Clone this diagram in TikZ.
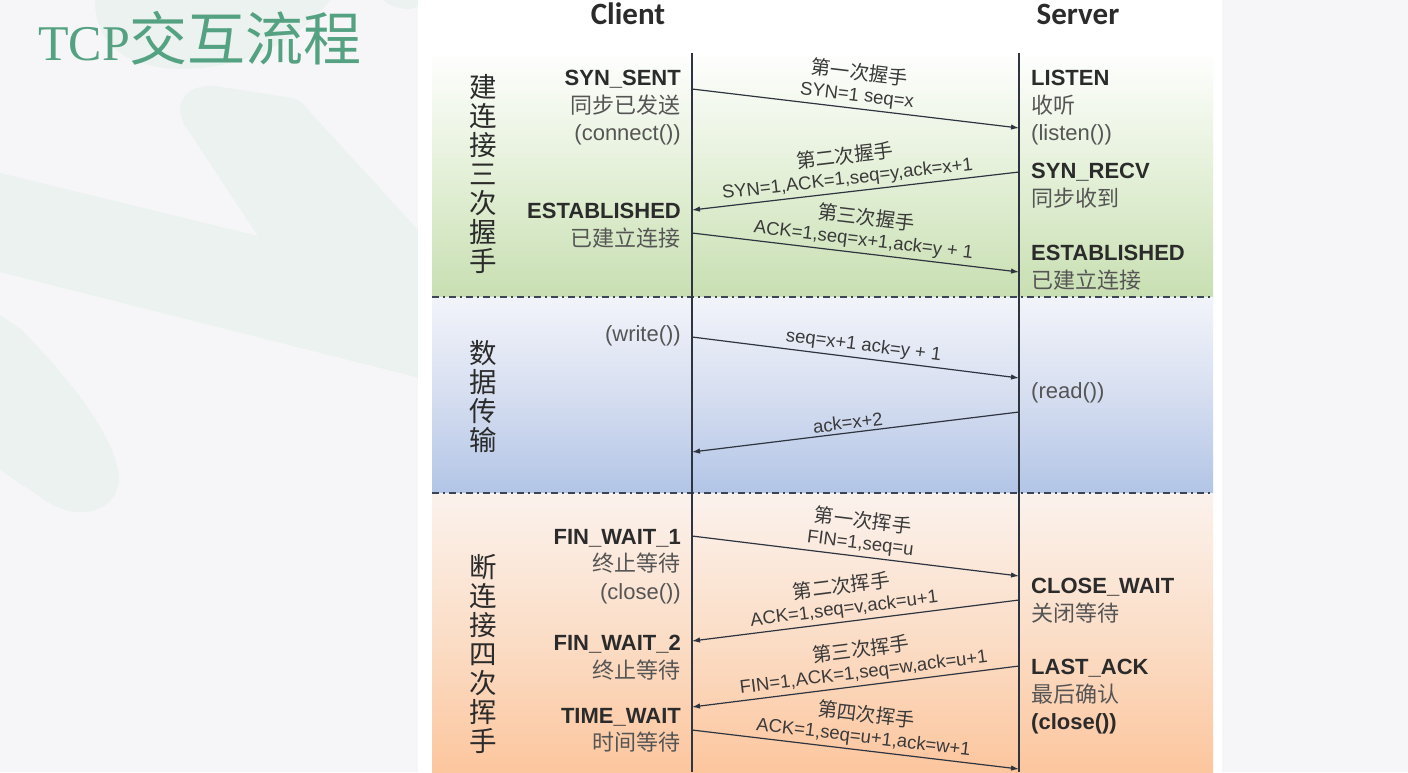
\documentclass[tikz,border=0pt]{standalone}
\usepackage{fontspec}
\setmainfont{Liberation Sans}
\newfontfamily\cjk{Noto Sans CJK SC}
\newfontfamily\calib{Carlito}
\newfontfamily\tser{Liberation Serif}
\newcommand\lblcjk{\cjk\fontsize{19.5}{21.5}\selectfont}
\usetikzlibrary{arrows.meta}
\definecolor{bgcol}{HTML}{F6F6F8}
\definecolor{blobcol}{HTML}{EBF2EF}
\definecolor{titlecol}{HTML}{55A283}
\definecolor{ink}{HTML}{2B2B2B}
\definecolor{grayink}{HTML}{555555}
\definecolor{lblink}{HTML}{3A3A3A}
\definecolor{lineink}{HTML}{2E3440}
\definecolor{sepink}{HTML}{3A4658}
\begin{document}
\begin{tikzpicture}[x=1pt,y=-1pt,
  life/.style={draw=lineink,line width=1.3pt},
  msg/.style={draw=lineink,line width=1.2pt,-{Latex[length=8pt,width=5.5pt]}},
  sepline/.style={draw=sepink,line width=2pt,dash pattern=on 7pt off 4pt on 2pt off 4pt},
  lbl/.style={sloped,above,inner sep=3pt,align=center,text=lblink,
    font=\fontsize{18.5}{21.5}\selectfont},
  cstate/.style={anchor=north east,inner sep=0pt,align=right,text=grayink,
    font=\fontsize{22}{27.5}\selectfont},
  sstate/.style={anchor=north west,inner sep=0pt,align=left,text=grayink,
    font=\fontsize{22}{27.5}\selectfont},
  phase/.style={align=center,text=ink,inner sep=0pt,
    font=\cjk\fontsize{27.5}{29}\selectfont},
  head/.style={text=ink,inner sep=0pt,font=\calib\bfseries\fontsize{31}{31}\selectfont}
]
\useasboundingbox (0,0) rectangle (1408,772);
% background
\fill[bgcol] (0,0) rectangle (1408,772);
\fill[blobcol] (0,173) -- (258,236) -- (184,124)
  .. controls (172,100) and (190,84) .. (215,86)
  -- (292,98) .. controls (300,100) and (305,105) .. (310,112)
  -- (420,232) -- (420,378) -- (0,272) -- cycle;
\fill[blobcol] (0,315) -- (22,330) .. controls (70,380) and (110,430) .. (118,470)
  .. controls (125,510) and (80,525) .. (45,500) -- (0,470) -- cycle;
\fill[blobcol] (95,0) .. controls (95,60) and (150,72) .. (200,68)
  .. controls (250,64) and (300,40) .. (330,0) -- cycle;
\fill[blobcol] (383,0) .. controls (395,10) and (415,12) .. (420,4) -- (420,0) -- cycle;
% panel
\fill[white] (418,0) rectangle (1222,772);
% bands
\shade[top color=white,bottom color={rgb,255:red,200;green,223;blue,178},middle color={rgb,255:red,228;green,240;blue,216}]
  (432,50) rectangle (1213,297);
\shade[top color={rgb,255:red,242;green,244;blue,250},bottom color={rgb,255:red,178;green,197;blue,230},middle color={rgb,255:red,214;green,222;blue,240}]
  (432,297) rectangle (1213,493);
\shade[top color={rgb,255:red,251;green,242;blue,237},bottom color={rgb,255:red,252;green,198;blue,158},middle color={rgb,255:red,251;green,222;blue,200}]
  (432,493) rectangle (1213,772);
\draw[sepline] (432,297) -- (1213,297);
\draw[sepline] (432,493) -- (1213,493);
% title
\node[anchor=west,inner sep=0pt,text=titlecol] (title) at (38,38)
  {{\tser\fontsize{50}{50}\selectfont TCP}{\cjk\fontsize{58}{58}\selectfont 交互流程}};
% headers
\node[head] (client) at (628,14) {Client};
\node[head] (server) at (1078,14) {Server};
% lifelines
\coordinate (cTop) at (692,53); \coordinate (cBot) at (692,772);
\coordinate (sTop) at (1019,53); \coordinate (sBot) at (1019,772);
\draw[life] (cTop) -- (cBot);
\draw[life] (sTop) -- (sBot);
% phase labels
\node[phase] (p1) at (483,174) {建\\连\\接\\三\\次\\握\\手};
\node[phase] (p2) at (483,397) {数\\据\\传\\输};
\node[phase] (p3) at (483,654) {断\\连\\接\\四\\次\\挥\\手};
% client states
\node[cstate] (cs1) at (681,70) {\textcolor{ink}{\bfseries SYN\_SENT}\\{\cjk 同步已发送}\\(connect())};
\node[cstate] (cs2) at (681,203) {\textcolor{ink}{\bfseries ESTABLISHED}\\{\cjk 已建立连接}};
\node[cstate] (cs3) at (681,325) {(write())};
\node[cstate] (cs4) at (681,529) {\textcolor{ink}{\bfseries FIN\_WAIT\_1}\\{\cjk 终止等待}\\(close())};
\node[cstate] (cs5) at (681,635) {\textcolor{ink}{\bfseries FIN\_WAIT\_2}\\{\cjk 终止等待}};
\node[cstate] (cs6) at (681,708) {\textcolor{ink}{\bfseries TIME\_WAIT}\\{\cjk 时间等待}};
% server states
\node[sstate] (ss1) at (1031,70) {\textcolor{ink}{\bfseries LISTEN}\\{\cjk 收听}\\(listen())};
\node[sstate] (ss2) at (1031,163) {\textcolor{ink}{\bfseries SYN\_RECV}\\{\cjk 同步收到}};
\node[sstate] (ss3) at (1031,245) {\textcolor{ink}{\bfseries ESTABLISHED}\\{\cjk 已建立连接}};
\node[sstate] (ss4) at (1031,382) {(read())};
\node[sstate] (ss5) at (1031,578) {\textcolor{ink}{\bfseries CLOSE\_WAIT}\\{\cjk 关闭等待}};
\node[sstate] (ss6) at (1031,659) {\textcolor{ink}{\bfseries LAST\_ACK}\\{\cjk 最后确认}\\\textcolor{ink}{\bfseries (close())}};
% message endpoints
\coordinate (c1) at (692,89);   \coordinate (s1) at (1019,128);
\coordinate (s2) at (1019,172); \coordinate (c2) at (692,210);
\coordinate (c3) at (692,233);  \coordinate (s3) at (1019,272);
\coordinate (c4) at (692,337);  \coordinate (s4) at (1019,378);
\coordinate (s5) at (1019,412); \coordinate (c5) at (692,452);
\coordinate (c6) at (692,536);  \coordinate (s6) at (1019,576);
\coordinate (s7) at (1019,600); \coordinate (c7) at (692,641);
\coordinate (s8) at (1019,666); \coordinate (c8) at (692,707);
\coordinate (c9) at (692,730);  \coordinate (s9) at (1019,769);
% messages
\draw[msg] (c1) -- node[lbl] {{\lblcjk 第一次握手}\\SYN=1 seq=x} (s1);
\draw[msg] (s2) -- node[lbl,pos=0.52] {{\lblcjk 第二次握手}\\SYN=1,ACK=1,seq=y,ack=x+1} (c2);
\draw[msg] (c3) -- node[lbl,pos=0.52] {{\lblcjk 第三次握手}\\ACK=1,seq=x+1,ack=y + 1} (s3);
\draw[msg] (c4) -- node[lbl,pos=0.52] {seq=x+1 ack=y + 1} (s4);
\draw[msg] (s5) -- node[lbl,pos=0.52] {ack=x+2} (c5);
\draw[msg] (c6) -- node[lbl,pos=0.51] {{\lblcjk 第一次挥手}\\FIN=1,seq=u} (s6);
\draw[msg] (s7) -- node[lbl,pos=0.53] {{\lblcjk 第二次挥手}\\ACK=1,seq=v,ack=u+1} (c7);
\draw[msg] (s8) -- node[lbl,pos=0.47] {{\lblcjk 第三次挥手}\\FIN=1,ACK=1,seq=w,ack=u+1} (c8);
\draw[msg] (c9) -- node[lbl,pos=0.52] {{\lblcjk 第四次挥手}\\ACK=1,seq=u+1,ack=w+1} (s9);
\end{tikzpicture}
\end{document}
